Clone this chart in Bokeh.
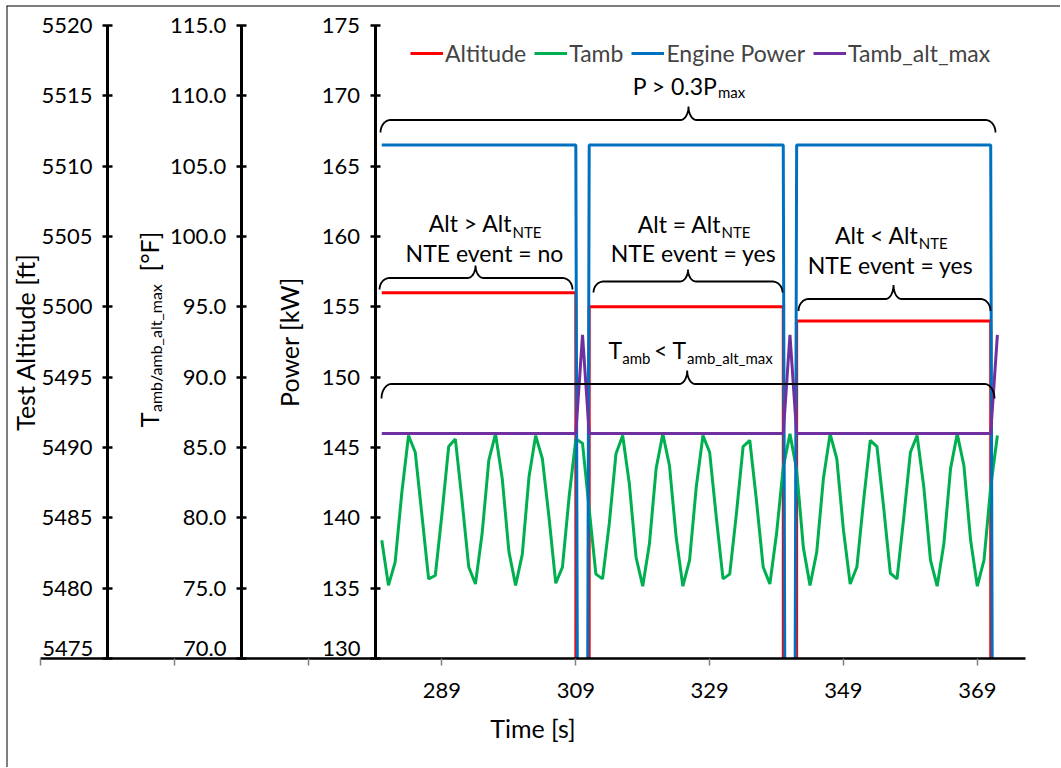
import math
from bokeh.plotting import figure
from bokeh.models import (Range1d, LinearAxis, FixedTicker, PrintfTickFormatter,
                          Label, Legend, LegendItem, Span, BoxAnnotation)
from bokeh.embed import file_html
from bokeh.resources import INLINE

# ---------------- data ----------------
time_tamb = list(range(280, 373))
tamb_F = [78.4, 75.2, 76.85, 81.8, 85.85, 84.66, 80.2, 75.66, 75.9, 80.3,
          85.07, 85.6, 81.2, 76.5, 75.3, 78.9, 84.1, 85.97, 82.8, 77.6,
          75.2, 77.4, 82.9, 85.85, 84.2, 80.0, 75.35, 76.5, 81.5, 85.6,
          85.3, 80.6, 76.0, 75.66, 79.6, 84.55, 85.85, 82.4, 77.2, 75.14,
          78.15, 83.5, 85.97, 83.7, 78.6, 75.14, 77.0, 82.2, 85.85, 84.66,
          80.0, 75.66, 76.0, 80.3, 85.07, 85.5, 81.2, 76.5, 75.3, 78.9,
          83.6, 85.97, 83.4, 77.9, 75.19, 77.56, 82.8, 85.97, 84.2, 79.1,
          75.3, 76.5, 81.2, 85.5, 85.07, 80.75, 76.06, 75.66, 80.0, 84.66,
          85.85, 82.2, 77.0, 75.14, 78.15, 83.5, 85.97, 83.7, 78.4, 75.14,
          77.0, 82.2, 85.85]

time_steps = [280, 309, 310, 311, 340, 341, 342, 371, 372]
altitude_ft = [5501, 5501, 0, 5500, 5500, 0, 5499, 5499, 0]
power_kW = [166.5, 166.5, 0, 166.5, 166.5, 0, 166.5, 166.5, 0]
tamb_alt_max_F = [86, 86, 93, 86, 86, 93, 86, 86, 93]

time_ticks = [229, 249, 269, 289, 309, 329, 349, 369]
time_hidden = [229, 249, 269]
time_bounds = (229, 376.2)
power_ticks = [130, 135, 140, 145, 150, 155, 160, 165, 170, 175]
temp_ticks = [70, 75, 80, 85, 90, 95, 100, 105, 110, 115]
alt_ticks = [5475, 5480, 5485, 5490, 5495, 5500, 5505, 5510, 5515, 5520]

series_names = ["Altitude", "Tamb", "Engine Power", "Tamb_alt_max"]
series_colors = ["#FF0000", "#00B050", "#0070C0", "#7030A0"]

# ---------------- layout constants (page pixels) ----------------
FONT = "Lato"
CAN_L, CAN_T, CAN_W, CAN_H = 6, 5, 1054, 762      # canvas on the page
PA_L, PA_R, PA_T, PA_B = 40, 1025, 25, 658          # plot area of the axes
SX = (time_bounds[1] - time_bounds[0]) / (PA_R - PA_L)
SY = (power_ticks[-1] - power_ticks[0]) / (PA_B - PA_T)

x_start = time_bounds[0] - (PA_L - CAN_L) * SX
x_end = time_bounds[0] + (CAN_L + CAN_W - PA_L) * SX
lo_pad = (CAN_T + CAN_H - PA_B) * SY
hi_pad = (PA_T - CAN_T) * SY


def dx(px):
    return x_start + (px - CAN_L) * SX


def dy(py):
    return power_ticks[-1] + hi_pad - (py - CAN_T) * SY


p = figure(frame_width=CAN_W, frame_height=CAN_H,
           x_range=Range1d(x_start, x_end),
           y_range=Range1d(power_ticks[0] - lo_pad, power_ticks[-1] + hi_pad),
           x_axis_location=None, y_axis_location=None,
           output_backend="svg", toolbar_location=None,
           min_border_left=0, min_border_top=0,
           min_border_right=0, min_border_bottom=0)
p.extra_y_ranges = {
    "alt": Range1d(alt_ticks[0] - lo_pad, alt_ticks[-1] + hi_pad),
    "temp": Range1d(temp_ticks[0] - lo_pad, temp_ticks[-1] + hi_pad)}
p.outline_line_color = None
p.background_fill_color = "white"
p.border_fill_color = "white"
p.xgrid.grid_line_color = None
p.ygrid.grid_line_color = None
p.margin = (CAN_T, 0, 0, CAN_L)

# chart-area border (left and top edges, as in the reference)
p.add_layout(Span(location=x_start, dimension="height", line_color="black", line_width=2))
p.add_layout(Span(location=power_ticks[-1] + hi_pad, dimension="width",
                  line_color="black", line_width=2))

# ---------------- axes ----------------
xaxis = LinearAxis(ticker=FixedTicker(ticks=time_ticks), bounds=time_bounds,
                   fixed_location=power_ticks[0],
                   major_label_overrides={t: "" for t in time_hidden},
                   axis_label="Time [s]")
xaxis.axis_line_width = 2.5
xaxis.axis_line_color = "black"
xaxis.major_tick_in = 0
xaxis.major_tick_out = 7
xaxis.major_tick_line_color = "#808080"
xaxis.major_tick_line_width = 1.5
xaxis.minor_tick_line_color = None
xaxis.major_label_text_font = FONT
xaxis.major_label_text_font_size = "22px"
xaxis.major_label_text_color = "black"
xaxis.major_label_standoff = 17
xaxis.axis_label_text_font = FONT
xaxis.axis_label_text_font_size = "25px"
xaxis.axis_label_text_font_style = "normal"
xaxis.axis_label_text_color = "black"
xaxis.axis_label_standoff = 12
p.add_layout(xaxis, "below")


def y_axis(loc, label, ticks, rng=None, fmt=None, standoff=10):
    kw = dict(fixed_location=loc, ticker=FixedTicker(ticks=ticks), axis_label=label,
              bounds=(ticks[0], ticks[-1]), major_label_overrides={ticks[0]: ""})
    if rng:
        kw["y_range_name"] = rng
    if fmt:
        kw["formatter"] = PrintfTickFormatter(format=fmt)
    ax = LinearAxis(**kw)
    ax.axis_line_width = 3
    ax.axis_line_color = "black"
    ax.major_tick_in = 5
    ax.major_tick_out = 5
    ax.major_tick_line_width = 2.5
    ax.major_tick_line_color = "black"
    ax.minor_tick_line_color = None
    ax.major_label_text_font = FONT
    ax.major_label_text_font_size = "22px"
    ax.major_label_text_color = "black"
    ax.major_label_standoff = 10
    ax.axis_label_text_font = FONT
    ax.axis_label_text_font_size = "25px"
    ax.axis_label_text_font_style = "normal"
    ax.axis_label_text_color = "black"
    ax.axis_label_standoff = standoff
    p.add_layout(ax, "left")
    return ax


y_axis(239, "Test Altitude [ft]", alt_ticks, rng="alt", standoff=-2)
y_axis(259, "", temp_ticks, rng="temp", fmt="%.1f")
y_axis(279, "Power [kW]", power_ticks, standoff=15)

# ---------------- series ----------------
r_alt = p.line(time_steps, altitude_ft, y_range_name="alt",
               line_color=series_colors[0], line_width=3)
r_tamb = p.line(time_tamb, tamb_F, y_range_name="temp",
                line_color=series_colors[1], line_width=3)
r_pow = p.line(time_steps, power_kW,
               line_color=series_colors[2], line_width=3)
r_max = p.line(time_steps, tamb_alt_max_F, y_range_name="temp",
               line_color=series_colors[3], line_width=3)

# the series are clipped at the time axis (as the plot area does in the reference)
mask = BoxAnnotation(top=power_ticks[0], fill_color="white", fill_alpha=1.0,
                     line_color=None, level="glyph")
p.renderers.append(mask)

legend = Legend(items=[LegendItem(label=n, renderers=[r]) for n, r in
                       zip(series_names, [r_alt, r_tamb, r_pow, r_max])],
                orientation="horizontal",
                location=(410 - CAN_L, CAN_T + CAN_H - 53 - 14),
                label_text_font=FONT, label_text_font_size="23px",
                glyph_width=33, glyph_height=20, label_standoff=2, spacing=8,
                padding=0, margin=0, border_line_color=None,
                background_fill_alpha=0)
p.add_layout(legend)


# ---------------- braces ----------------
def brace(x1, x2, y0, xm, h_tip, h_end, r_end=10, r_tip=8, n=10):
    pts = []
    cx, cy = x1 + r_end, y0 + h_end
    for k in range(n + 1):
        a = math.pi + (math.pi / 2) * k / n
        pts.append((cx + r_end * math.cos(a), cy + h_end * math.sin(a)))
    cx, cy = xm - r_tip, y0 - h_tip
    for k in range(n + 1):
        a = math.pi / 2 - (math.pi / 2) * k / n
        pts.append((cx + r_tip * math.cos(a), cy + h_tip * math.sin(a)))
    cx, cy = xm + r_tip, y0 - h_tip
    for k in range(n + 1):
        a = math.pi - (math.pi / 2) * k / n
        pts.append((cx + r_tip * math.cos(a), cy + h_tip * math.sin(a)))
    cx, cy = x2 - r_end, y0 + h_end
    for k in range(n + 1):
        a = 1.5 * math.pi + (math.pi / 2) * k / n
        pts.append((cx + r_end * math.cos(a), cy + h_end * math.sin(a)))
    p.line([dx(a) for a, b in pts], [dy(b) for a, b in pts],
           line_color="black", line_width=1.8)


brace(380, 995, 119.5, 688, 13.5, 12.5)
brace(379, 572, 277.5, 475, 12.5, 11.5)
brace(593, 782, 281, 687.5, 12, 11)
brace(798, 990, 298.5, 893, 14, 12)
brace(381, 994, 383.5, 686.7, 13.5, 14.5)


# ---------------- annotation texts ----------------
def txt(px, py, s, size="24px", align="left", angle=0.0):
    p.add_layout(Label(x=dx(px), y=dy(py), text=s, text_font=FONT,
                       text_font_size=size, text_align=align,
                       text_baseline="middle", text_color="black",
                       angle=angle))


BIG, SUB = "23px", "15px"
txt(717, 85, "P > 0.3P", BIG, "right")
txt(717.5, 91.5, "max", SUB)
txt(511.7, 222, "Alt > Alt", BIG, "right")
txt(512, 231, "NTE", SUB)
txt(484, 252.5, "NTE event = no", BIG, "center")
txt(720.7, 223, "Alt = Alt", BIG, "right")
txt(721, 231, "NTE", SUB)
txt(693, 252.5, "NTE event = yes", BIG, "center")
txt(918, 234.5, "Alt < Alt", BIG, "right")
txt(918.3, 242, "NTE", SUB)
txt(890, 264, "NTE event = yes", BIG, "center")
txt(621.5, 349.5, "T", BIG, "right")
txt(621.8, 357, "amb", SUB)
txt(686.3, 349.5, "< T", BIG, "right")
txt(686.6, 357, "amb_alt_max", SUB)

# lowest tick labels sit just above the time axis, as in the reference
txt(92.7, 648, str(alt_ticks[0]), "22px", "right")
txt(226, 648, "%.1f" % temp_ticks[0], "22px", "right")
txt(360, 648, str(power_ticks[0]), "22px", "right")

# temperature axis title (rotated, with subscript)
txt(148, 412, "T", "25px", "right", math.pi / 2)
txt(155, 411.5, "amb/amb_alt_max", "16px", "left", math.pi / 2)
txt(148, 271, "[°F]", "25px", "left", math.pi / 2)

open("out.html", "w").write(file_html(p, INLINE))
